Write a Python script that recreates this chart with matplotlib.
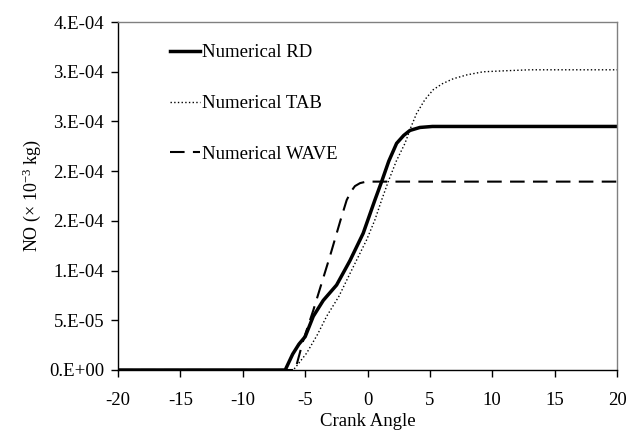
import matplotlib
matplotlib.use("Agg")
import matplotlib.pyplot as plt

plt.rcParams['font.family'] = ['Liberation Serif', 'DejaVu Serif']
plt.rcParams['mathtext.fontset'] = 'custom'
plt.rcParams['mathtext.rm'] = 'Liberation Serif'
plt.rcParams['mathtext.default'] = 'regular'
plt.rcParams['axes.unicode_minus'] = False

# courbe RD (trait plein)
rd_x = [-20, -6.6, -6.0, -5.5, -5.0, -4.35, -3.55, -2.48, -1.41, -0.35, 0.59, 1.13, 1.7, 2.33, 2.9, 3.4, 4.2, 5.2, 7, 20]
rd_y = [0, 0, 1.6e-5, 2.6e-5, 3.35e-5, 5.4e-5, 7.0e-5, 8.55e-5, 1.1e-4, 1.375e-4, 1.71e-4, 1.895e-4,
        2.1e-4, 2.28e-4, 2.36e-4, 2.41e-4, 2.44e-4, 2.45e-4, 2.45e-4, 2.45e-4]

# courbe TAB (pointillés)
tab_x = [-20, -5.95, -5.5, -4.88, -4.0, -3.28, -2.3, -1.41, -0.07, 0.59, 1.13, 1.66, 2.3, 3.0, 3.5, 3.93,
         4.6, 5.27, 6.0, 6.87, 8.0, 9.27, 11, 13, 20]
tab_y = [0, 0, 7e-6, 1.7e-5, 3.6e-5, 5.4e-5, 7.4e-5, 9.7e-5, 1.31e-4, 1.51e-4, 1.71e-4, 1.895e-4, 2.1e-4,
         2.28e-4, 2.45e-4, 2.58e-4, 2.72e-4, 2.82e-4, 2.88e-4, 2.93e-4, 2.97e-4, 3.0e-4, 3.01e-4, 3.02e-4, 3.02e-4]

# courbe WAVE (tirets)
wave_x = [-20, -5.8, -5.15, -4.35, -3.0, -2.16, -1.67, -1.3, -1.01, -0.6, -0.1, 20]
wave_y = [0, 0, 3e-5, 6e-5, 1.15e-4, 1.51e-4, 1.71e-4, 1.8e-4, 1.85e-4, 1.88e-4, 1.895e-4, 1.895e-4]

# graduations
x_ticks = [-20, -15, -10, -5, 0, 5, 10, 15, 20]
y_ticks = [0, 5e-5, 1e-4, 1.5e-4, 2e-4, 2.5e-4, 3e-4, 3.5e-4]
y_labels = ["0.E+00", "5.E-05", "1.E-04", "2.E-04", "2.E-04", "3.E-04", "3.E-04", "4.E-04"]

fig = plt.figure(figsize=(6.28, 4.33), dpi=100)
ax = fig.add_axes([0.188, 0.1455, 0.7945, 0.8035])

ax.plot(tab_x, tab_y, color='black', lw=1.0, ls=':', label='Numerical TAB')
ax.plot(wave_x, wave_y, color='black', lw=1.5, ls=(0, (7, 4)), label='Numerical WAVE')
ax.plot(rd_x, rd_y, color='black', lw=2.5, label='Numerical RD')

ax.set_xlim(-20, 20)
ax.set_ylim(0, 3.5e-4)
ax.set_xticks(x_ticks)
ax.set_yticks(y_ticks)
ax.set_yticklabels(y_labels)
ax.tick_params(direction='out', length=5, width=1, labelsize=13.5, colors='black')
ax.tick_params(axis='x', pad=11)
ax.tick_params(axis='y', pad=5)

for s in ['top', 'right']:
    ax.spines[s].set_color('#808080')
    ax.spines[s].set_linewidth(1)
for s in ['left', 'bottom']:
    ax.spines[s].set_linewidth(1)

ax.set_xlabel('Crank Angle', fontsize=13.5, labelpad=3)
ax.set_ylabel('NO (× 10$^{-3}$ kg)', fontsize=13, labelpad=4)

h, l = ax.get_legend_handles_labels()
order = [2, 0, 1]
ax.legend([h[i] for i in order], [l[i] for i in order], loc='upper left', bbox_to_anchor=(0.07, 0.985),
          frameon=False, fontsize=13.5, handlelength=1.6, handletextpad=0.1, labelspacing=1.8)

fig.savefig('out.png', dpi=100)
